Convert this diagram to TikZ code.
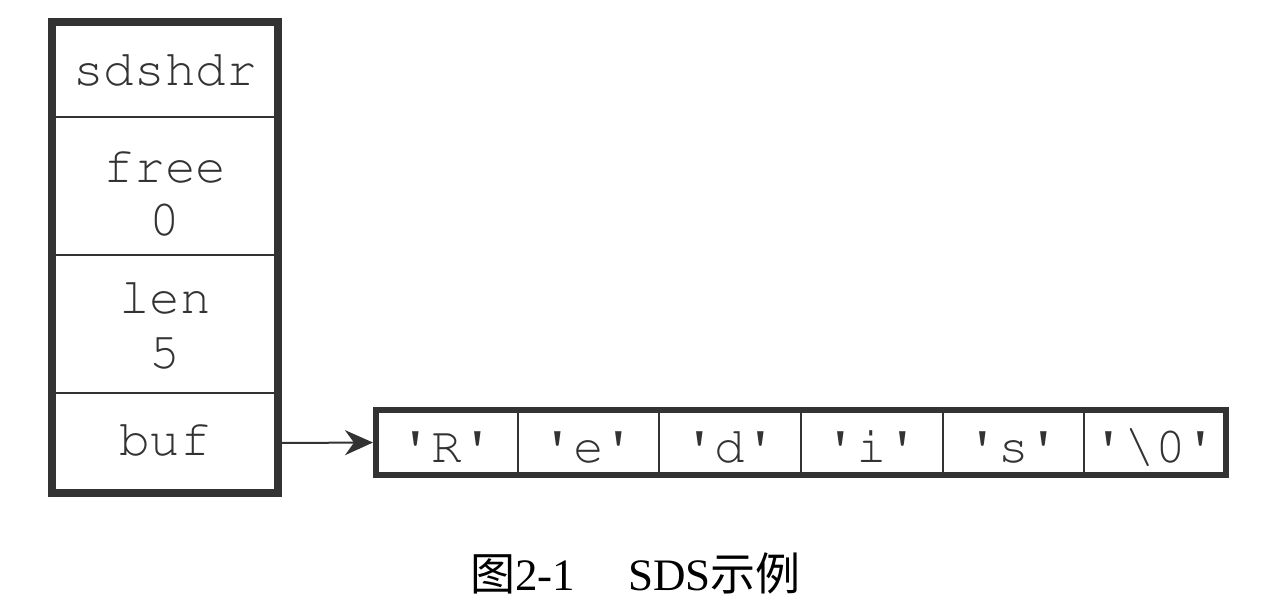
\documentclass[tikz,border=0pt]{standalone}
\usepackage[T1]{fontenc}
\usepackage{fontspec}
\setmainfont{Liberation Serif}
\setmonofont{Liberation Mono}
\newfontfamily\cjk{Noto Sans CJK SC}
\newcommand\courfont{\fontencoding{T1}\fontfamily{pcr}\fontseries{m}\fontshape{n}\fontsize{51}{53}\selectfont}
\newcommand\sq{\textquotesingle}
\usetikzlibrary{arrows.meta}
\definecolor{ink}{HTML}{333333}
\begin{document}
\begin{tikzpicture}[x=1pt,y=-1pt,
  field/.style={draw=ink, line width=2pt, minimum width=226pt, inner sep=0pt, outer sep=0pt, anchor=north west},
  cell/.style={draw=ink, line width=2pt, minimum width=141.67pt, minimum height=65pt, inner sep=0pt, outer sep=0pt,
    anchor=north west, text=ink, font=\courfont, text height=39pt, text depth=0pt},
  txt/.style={font=\courfont, text=ink, inner sep=0pt, anchor=base},
  conn/.style={draw=ink, line width=2pt, -{Stealth[length=28pt, width=25pt, inset=9pt]}, shorten >=3pt}
]
\useasboundingbox (0,0) rectangle (1272,606);
% struct rows
\node[field, minimum height=95pt] (hdr) at (52,22) {};
\node[field, minimum height=138pt] (free) at (52,117) {};
\node[field, minimum height=138pt] (len) at (52,255) {};
\node[field, minimum height=100pt] (buf) at (52,393) {};
\draw[ink, line width=8pt] (hdr.north west) rectangle (buf.south east);
\node[txt] (thdr) at (165,85) {sdshdr};
\node[txt] (tfree) at (165,182) {free};
\node[txt] (tfreev) at (165,235) {0};
\node[txt] (tlen) at (165,313) {len};
\node[txt] (tlenv) at (165,368) {5};
\node[txt] (tbuf) at (165,455) {buf};
% array cells
\node[cell] (c1) at (376,410) {\sq R\sq};
\node[cell] (c2) at (c1.north east) {\sq e\sq};
\node[cell] (c3) at (c2.north east) {\sq d\sq};
\node[cell] (c4) at (c3.north east) {\sq i\sq};
\node[cell] (c5) at (c4.north east) {\sq s\sq};
\node[cell] (c6) at (c5.north east) {\sq\textbackslash0\sq};
\draw[ink, line width=6pt] (c1.north west) rectangle (c6.south east);
% connector
\draw[conn] (buf.east) -- (c1.west);
% caption
\node[anchor=base west, inner sep=0pt, font=\fontsize{45}{50}\selectfont] (cap) at (470,590)
  {{\cjk 图}2-1\hspace{53pt}SDS{\cjk 示例}};
\end{tikzpicture}
\end{document}
